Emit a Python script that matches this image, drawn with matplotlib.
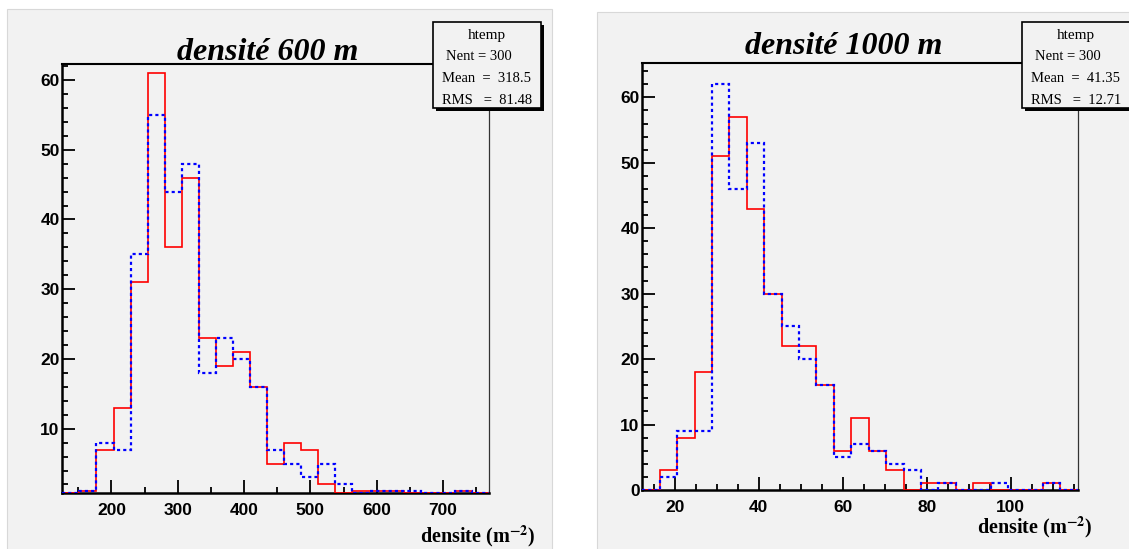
import numpy as np
import matplotlib
matplotlib.use("Agg")
import matplotlib.pyplot as plt
from matplotlib.ticker import MultipleLocator
from matplotlib.patches import Rectangle

plt.rcParams['mathtext.fontset'] = 'stix'

# ---- data (25 bins each) ----
nbins = 25
xrange_600 = (125.8, 769.4)
red_600 = [0, 1, 7, 13, 31, 61, 36, 46, 23, 19, 21, 16, 5, 8, 7, 2, 0, 1, 1, 1, 0, 0, 0, 1, 0]
blue_600 = [0, 1, 8, 7, 35, 55, 44, 48, 18, 23, 20, 16, 7, 5, 3, 5, 2, 0, 1, 1, 1, 0, 0, 1, 0]
stats_600 = ["htemp", "Nent = 300", "Mean  =  318.5", "RMS   =  81.48"]

xrange_1000 = (12.3, 115.95)
red_1000 = [0, 3, 8, 18, 51, 57, 43, 30, 22, 22, 16, 6, 11, 6, 3, 0, 1, 1, 0, 1, 0, 0, 0, 1, 0]
blue_1000 = [0, 2, 9, 9, 62, 46, 53, 30, 25, 20, 16, 5, 7, 6, 4, 3, 0, 1, 0, 0, 1, 0, 0, 1, 0]
stats_1000 = ["htemp", "Nent = 300", "Mean  =  41.35", "RMS   =  12.71"]

titles = ["densité 600 m", "densité 1000 m"]
xlabel = r"densite (m$^{\mathbf{-2}}$)"

W, H = 1129, 549
PAD = "#f2f2f2"
TICKFONT = ["Liberation Sans Narrow", "Liberation Sans", "DejaVu Sans"]
SERIF = ["Liberation Serif", "DejaVu Serif"]

fig = plt.figure(figsize=(W / 100, H / 100), dpi=100)
fig.patch.set_facecolor("white")


def fx(px):
    return px / W


def fy(py):
    return 1 - py / H


def pad_rect(x0, y0, x1, y1):
    fig.patches.append(Rectangle((fx(x0), fy(y1)), fx(x1 - x0), (y1 - y0) / H,
                                 transform=fig.transFigure, facecolor=PAD,
                                 edgecolor="#d8d8d8", lw=0.8, zorder=-5))


def make_panel(box, xr, ylim, red, blue, xmaj, xmin_, title, tpos, stats, sbox, lpos):
    x0, y0, x1, y1 = box
    ax = fig.add_axes([fx(x0), fy(y1), (x1 - x0) / W, (y1 - y0) / H])
    ax.set_facecolor(PAD)
    ax.set_zorder(1)
    edges = np.linspace(xr[0], xr[1], nbins + 1)
    r = np.maximum(np.array(red, float), ylim[0])
    b = np.maximum(np.array(blue, float), ylim[0])
    ax.stairs(r, edges, baseline=None, color="red", lw=1.2, zorder=3)
    ax.stairs(b, edges, baseline=None, color="blue", lw=1.6,
              linestyle=(0, (1.4, 1.4)), zorder=4)
    ax.set_xlim(*xr)
    ax.set_ylim(*ylim)
    ax.xaxis.set_major_locator(MultipleLocator(xmaj))
    ax.xaxis.set_minor_locator(MultipleLocator(xmin_))
    ax.yaxis.set_major_locator(MultipleLocator(10))
    ax.yaxis.set_minor_locator(MultipleLocator(2))
    ax.tick_params(which="both", direction="in", top=False, right=False, width=1.3)
    ax.tick_params(which="major", length=9.5)
    ax.tick_params(which="minor", length=4.5)
    ax.tick_params(axis="y", pad=2)
    ax.tick_params(axis="x", pad=7.5)
    for lab in ax.get_xticklabels() + ax.get_yticklabels():
        lab.set_fontfamily(TICKFONT)
        lab.set_fontweight("bold")
        lab.set_fontsize(12.5)
    for s in ["left", "bottom"]:
        ax.spines[s].set_linewidth(1.8)
    ax.spines["top"].set_linewidth(1.5)
    ax.spines["right"].set_linewidth(0.9)
    ax.spines["right"].set_color("#333333")

    fig.text(fx(tpos[0]), fy(tpos[1]), title, ha="center", va="baseline",
             fontsize=23, fontweight="bold", fontstyle="italic", family=SERIF)

    # stats box with ROOT-like shadow
    sx0, sy0, sx1, sy1 = sbox
    fig.patches.append(Rectangle((fx(sx0 + 3), fy(sy1 + 3)), (sx1 - sx0) / W, (sy1 - sy0) / H,
                                 transform=fig.transFigure, facecolor="black",
                                 edgecolor="black", lw=0, zorder=5))
    fig.patches.append(Rectangle((fx(sx0), fy(sy1)), (sx1 - sx0) / W, (sy1 - sy0) / H,
                                 transform=fig.transFigure, facecolor=PAD,
                                 edgecolor="black", lw=1.2, zorder=6))
    tx = sx0 + 9
    fs = 10.5
    fig.text(fx(sx0 + 54), fy(35), stats[0], ha="center", va="center",
             fontsize=fs + 0.5, family=SERIF, zorder=7)
    fig.text(fx(tx + 4), fy(57), stats[1], ha="left", va="center",
             fontsize=fs, family=SERIF, zorder=7)
    fig.text(fx(tx), fy(79), stats[2], ha="left", va="center",
             fontsize=fs, family=SERIF, zorder=7)
    fig.text(fx(tx), fy(100), stats[3], ha="left", va="center",
             fontsize=fs, family=SERIF, zorder=7)

    fig.text(fx(lpos[0]), fy(lpos[1]), xlabel, ha="right", va="baseline",
             fontsize=14.5, fontweight="bold", family=SERIF)
    return ax


pad_rect(6.7, 9.3, 551.7, 552)
pad_rect(597.3, 11.7, 1132, 552)

make_panel((62.3, 64.3, 489.0, 492.7), xrange_600, (0.82, 62.25), red_600, blue_600,
           100, 50, titles[0], (268, 60.5), stats_600, (433, 22, 541, 108), (535, 542))
make_panel((642.3, 63.3, 1077.7, 490.0), xrange_1000, (0, 65.2), red_1000, blue_1000,
           20, 5, titles[1], (844, 54), stats_1000, (1022, 22, 1135, 108), (1092, 533))

fig.savefig("out.png", dpi=100)
